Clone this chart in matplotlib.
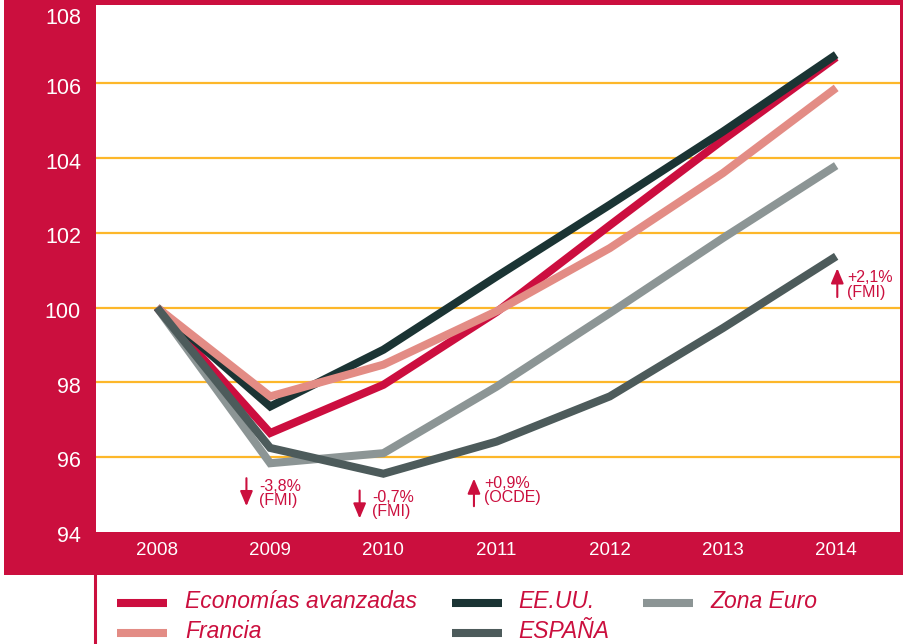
import matplotlib
matplotlib.use("Agg")
import matplotlib.pyplot as plt
from matplotlib.patches import Rectangle
from matplotlib.lines import Line2D
import matplotlib.transforms as mtransforms

# ---------------- data ----------------
years = [2008, 2009, 2010, 2011, 2012, 2013, 2014]
economias = [100, 96.64, 97.93, 99.88, 102.2, 104.49, 106.7]
eeuu = [100, 97.35, 98.87, 100.83, 102.75, 104.71, 106.77]
francia = [100, 97.62, 98.47, 99.9, 101.59, 103.6, 105.88]
zona_euro = [100, 95.83, 96.1, 97.88, 99.85, 101.86, 103.8]
espana = [100, 96.24, 95.55, 96.41, 97.62, 99.45, 101.37]

series_names = ["Economías avanzadas", "Francia", "EE.UU.", "ESPAÑA", "Zona Euro"]
y_ticks = [94, 96, 98, 100, 102, 104, 106, 108]
grid_vals = [96, 98, 100, 102, 104, 106]

# annotations: (text, arrow x, arrow start y, arrow end y, text x, text y)
annotations = [
    ("-3,8%\n(FMI)", 2008.79, 95.43, 94.68, 2008.90, 95.02),
    ("-0,7%\n(FMI)", 2009.79, 95.1, 94.35, 2009.90, 94.72),
    ("+0,9%\n(OCDE)", 2010.80, 94.68, 95.42, 2010.89, 95.1),
    ("+2,1%\n(FMI)", 2014.01, 100.28, 101.05, 2014.10, 100.6),
]

# ---------------- style ----------------
CRIMSON = "#CB0F3E"
C_ECON = "#CC0E3F"
C_EEUU = "#1B3434"
C_FRAN = "#E38C85"
C_ZONA = "#8C9595"
C_ESP = "#4D5B5B"
GRID = "#FDB72A"
NARROW = ["Liberation Sans", "DejaVu Sans"]
W, H = 904, 644

fig = plt.figure(figsize=(W / 100, H / 100), dpi=100)
fig.patch.set_facecolor("white")

def fx(px):
    return px / W

def fy(py):
    return 1 - py / H

# crimson frame / background
fig.add_artist(Rectangle((fx(4), fy(575)), fx(904) - fx(4), fy(0) - fy(575),
                         transform=fig.transFigure, facecolor=CRIMSON,
                         edgecolor="none", zorder=0))
fig.add_artist(Line2D([fx(95.5), fx(95.5)], [fy(575), fy(644)],
                      transform=fig.transFigure, color=CRIMSON, lw=2.2, zorder=1))

ax_l, ax_r, ax_t, ax_b = 96, 900, 5, 531.6
ax = fig.add_axes([fx(ax_l), fy(ax_b), fx(ax_r) - fx(ax_l), fy(ax_t) - fy(ax_b)])
ax.set_facecolor("white")
for s in ax.spines.values():
    s.set_visible(False)

ax.set_xlim(2007.461, 2014.564)
ax.set_ylim(94, 108.1)

for g in grid_vals:
    ax.axhline(g, color=GRID, lw=1.6, zorder=1)

lw = 5.8
ax.plot(years, zona_euro, color=C_ZONA, lw=lw, solid_joinstyle="miter", solid_capstyle="butt", zorder=3)
ax.plot(years, economias, color=C_ECON, lw=lw, solid_joinstyle="miter", solid_capstyle="butt", zorder=4)
ax.plot(years, eeuu, color=C_EEUU, lw=lw, solid_joinstyle="miter", solid_capstyle="butt", zorder=5)
ax.plot(years, francia, color=C_FRAN, lw=lw, solid_joinstyle="miter", solid_capstyle="butt", zorder=6)
ax.plot(years, espana, color=C_ESP, lw=lw, solid_joinstyle="miter", solid_capstyle="butt", zorder=7)

# x tick labels
ax.set_xticks(years)
ax.set_xticklabels([str(y) for y in years], family=NARROW, fontsize=13.5, color="white")
ax.tick_params(axis="x", length=0, pad=13.5)
for lab in ax.get_xticklabels():
    lab.set_va("center")

# y tick labels as text
ax.set_yticks([])
ytrans = mtransforms.blended_transform_factory(ax.transAxes, ax.transData)
for v in y_ticks:
    off = -10 if v == y_ticks[-1] else -5
    t = ytrans + mtransforms.ScaledTranslation(-15 / 100, off / 100, fig.dpi_scale_trans)
    ax.text(0, v, str(v), transform=t, ha="right", va="center",
            family=NARROW, fontsize=15.5, color="white", clip_on=False)

# annotations
for txt, axx, y0, y1, tx, ty in annotations:
    ax.annotate("", xy=(axx, y1), xytext=(axx, y0),
                arrowprops=dict(arrowstyle="-|>,head_length=0.9,head_width=0.38",
                                color=CRIMSON, lw=1.5, shrinkA=0, shrinkB=0),
                zorder=8)
    ax.text(tx, ty, txt, ha="left", va="center", family=NARROW, fontsize=11.5,
            color=CRIMSON, linespacing=0.95, zorder=8)

# legend (manual layout)
colors = [C_ECON, C_FRAN, C_EEUU, C_ESP, C_ZONA]
pos = [(117, 185, 602), (117, 185, 632), (452, 518, 602), (452, 518, 632), (643, 710, 602)]
for name, col, (hx, tx, yy) in zip(series_names, colors, pos):
    fig.add_artist(Line2D([fx(hx), fx(hx + 50)], [fy(yy + 1), fy(yy + 1)],
                          transform=fig.transFigure, color=col, lw=lw,
                          solid_capstyle="butt"))
    fig.text(fx(tx), fy(yy), name, ha="left", va="center", fontsize=16.5,
             family=["Liberation Sans", "DejaVu Sans"], style="italic", color=CRIMSON)

fig.savefig("out.png", dpi=100, facecolor="white")
